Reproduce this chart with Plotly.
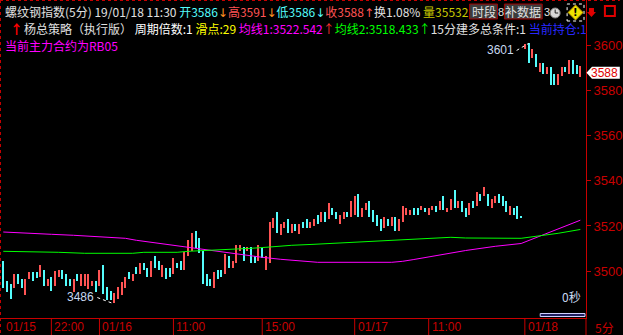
import plotly.graph_objects as go

# ---------------- data ----------------
bar_high = [
    3504.4, 3495.6, 3494.2, 3498.7, 3498.7, 3496.4, 3496.4, 3499.7, 3499.7, 3499.7,
    3502.7, 3500.4, 3496.4, 3497.5, 3500.1, 3500.4, 3500.4, 3498.7, 3496.4, 3496.4,
    3498.7, 3498.7, 3498.7, 3498.7, 3495.6, 3495.6, 3500.4, 3502.7, 3492.8, 3491.3,
    3490.1, 3492.8, 3495.3, 3497.5, 3499.7, 3498.7, 3501.9, 3503.4, 3503.7, 3501.5,
    3504.4, 3506.8, 3504.4, 3502.7, 3501.5, 3501.5, 3505.9, 3503.7, 3504.4, 3508.6,
    3513.8, 3517.0, 3517.8, 3514.8, 3508.9, 3498.7, 3496.4, 3499.7, 3500.4, 3500.4,
    3507.5, 3506.7, 3504.4, 3511.5, 3511.5, 3510.8, 3510.8, 3510.8, 3506.7, 3511.5,
    3510.3, 3506.7, 3521.9, 3523.4, 3526.0, 3520.7, 3521.9, 3523.1, 3520.7, 3520.7,
    3520.7, 3521.6, 3523.1, 3521.6, 3523.1, 3524.9, 3526.3, 3526.3, 3530.3, 3528.1,
    3526.3, 3524.9, 3526.3, 3526.3, 3531.1, 3533.4, 3534.2, 3528.1, 3530.3, 3531.1,
    3527.1, 3524.9, 3523.1, 3524.1, 3523.1, 3524.1, 3524.1, 3523.1, 3528.9, 3528.1,
    3527.1, 3528.1, 3528.1, 3528.9, 3528.1, 3528.1, 3528.9, 3528.9, 3531.1, 3533.3,
    3528.1, 3532.0, 3536.0, 3531.1, 3531.1, 3528.1, 3530.3, 3531.1, 3534.9, 3534.2,
    3537.3, 3534.2, 3532.0, 3533.3, 3534.2, 3533.3, 3531.1, 3528.9, 3528.1, 3528.9,
    3524.1, 3600.6, 3601.0, 3598.5, 3596.3, 3592.5, 3592.5, 3590.4, 3590.4, 3587.4,
    3587.4, 3590.4, 3590.4, 3593.7, 3593.7, 3591.4, 3591.0,
]
bar_low = [
    3492.6, 3490.8, 3487.4, 3492.6, 3494.2, 3492.6, 3489.3, 3496.4, 3495.6, 3496.8,
    3497.5, 3493.3, 3493.3, 3491.3, 3493.3, 3497.5, 3496.4, 3493.3, 3493.3, 3490.8,
    3495.6, 3493.3, 3493.3, 3491.9, 3493.3, 3490.8, 3493.3, 3489.8, 3487.2, 3487.2,
    3486.0, 3487.4, 3489.3, 3492.6, 3496.4, 3495.6, 3498.7, 3498.7, 3500.4, 3497.5,
    3497.5, 3501.5, 3500.4, 3497.5, 3496.4, 3497.5, 3498.5, 3501.5, 3500.4, 3500.4,
    3506.8, 3508.9, 3510.3, 3507.9, 3494.2, 3493.5, 3493.5, 3492.6, 3496.4, 3497.5,
    3498.7, 3501.5, 3501.5, 3503.7, 3508.9, 3504.4, 3508.9, 3503.7, 3503.7, 3504.4,
    3505.9, 3500.4, 3503.7, 3519.0, 3517.0, 3516.0, 3519.2, 3517.0, 3517.0, 3517.9,
    3516.3, 3519.2, 3519.2, 3519.2, 3520.0, 3520.9, 3521.9, 3521.9, 3523.1, 3524.9,
    3523.1, 3520.9, 3523.1, 3524.1, 3524.1, 3524.9, 3524.1, 3524.1, 3527.1, 3524.1,
    3521.9, 3520.0, 3517.9, 3519.2, 3520.0, 3520.0, 3517.9, 3517.9, 3521.9, 3524.9,
    3524.9, 3524.9, 3524.9, 3527.1, 3526.3, 3524.9, 3527.1, 3526.3, 3527.1, 3527.1,
    3526.3, 3527.1, 3528.1, 3528.1, 3526.3, 3524.1, 3524.9, 3528.1, 3528.9, 3531.1,
    3533.3, 3528.9, 3528.1, 3530.3, 3530.3, 3528.9, 3526.3, 3524.9, 3524.9, 3523.1,
    3523.7, 3598.5, 3592.5, 3594.4, 3590.7, 3588.5, 3587.4, 3587.4, 3582.6, 3582.6,
    3582.6, 3586.6, 3588.2, 3587.4, 3587.4, 3587.4, 3586.0,
]
# 1 = rising bar (red), 0 = falling bar (cyan)
bar_up = [
    0, 0, 0, 1, 0, 0, 1, 1, 0, 0,
    1, 0, 1, 0, 1, 1, 0, 0, 0, 1,
    0, 1, 1, 1, 1, 0, 1, 0, 0, 0,
    1, 1, 1, 1, 0, 1, 0, 1, 0, 0,
    1, 0, 0, 1, 0, 0, 1, 0, 0, 1,
    1, 1, 0, 0, 0, 0, 0, 1, 0, 0,
    1, 0, 1, 1, 1, 0, 1, 0, 0, 1,
    0, 1, 1, 1, 0, 1, 1, 0, 1, 0,
    1, 0, 0, 1, 1, 0, 1, 0, 1, 0,
    0, 1, 1, 0, 1, 1, 0, 1, 1, 0,
    0, 0, 0, 1, 0, 1, 0, 1, 1, 1,
    1, 0, 0, 1, 0, 1, 1, 0, 1, 0,
    1, 1, 0, 1, 0, 0, 1, 0, 1, 0,
    1, 0, 1, 1, 0, 0, 0, 1, 0, 0,
    0, 1, 0, 1, 0, 1, 0, 1, 0, 0,
    1, 1, 0, 1, 0, 0, 1,
]

ma1_idx = [0, 6, 13, 19, 24, 29, 33, 36, 38, 42, 46, 49, 54, 58, 62, 66, 70, 75,
           80, 85, 105, 108, 111, 119, 125, 133, 140, 156]
ma1_val = [3517.31, 3516.73, 3516.29, 3515.85, 3515.40, 3514.96, 3514.51, 3513.63,
           3513.18, 3512.29, 3511.32, 3510.52, 3509.63, 3508.74, 3507.86, 3506.97,
           3506.08, 3505.19, 3504.44, 3503.86, 3503.86, 3504.31, 3505.10, 3507.41,
           3509.10, 3510.96, 3512.21, 3522.542]

ma2_idx = [0, 10, 15, 22, 35, 38, 47, 50, 57, 63, 67, 71, 74, 78, 84, 89, 95, 101,
           107, 112, 117, 121, 125, 140, 144, 150, 156]
ma2_val = [3508.74, 3508.66, 3508.30, 3507.86, 3507.86, 3508.30, 3508.30, 3508.74,
           3509.19, 3509.63, 3510.08, 3510.52, 3510.96, 3511.41, 3511.85, 3512.29,
           3512.74, 3513.18, 3513.63, 3514.07, 3514.43, 3514.96, 3514.65, 3514.51,
           3515.40, 3516.73, 3518.433]

y_ticks = [3500, 3520, 3540, 3560, 3580, 3600]
x_sep_idx = [0, 13, 26, 46, 70, 95, 115, 141]
x_sep_txt = ["01/15", "22:00", "01/16", "11:00", "15:00", "01/17", "11:00", "01/18"]

last_open, last_high, last_low, last_close = 3586, 3591, 3586, 3588
turnover = "1.08%"
volume = 35532
ma1_last, ma2_last = 3522.542, 3518.433

# ---------------- geometry helpers ----------------
W, H = 623, 335
PL, PR, PT, PB = 0, 34, 0, 17
PW, PH = W - PL - PR, H - PT - PB
BAR_PX0, BAR_STEP = 3.3, 3.718      # pixel of first bar, pixel per bar
Y_PX_3500, Y_PX_PER = 271.0, 2.253  # pixel of 3500, pixel per unit

def fx(px):
    return (px - PL) / PW

def fy(py):
    return (PH - (py - PT)) / PH

x_range = [(0 - BAR_PX0) / BAR_STEP, (PW - BAR_PX0) / BAR_STEP]
y_range = [3500 - (PH - Y_PX_3500) / Y_PX_PER, 3500 + Y_PX_3500 / Y_PX_PER]

RED = "#ff5454"
CYAN = "#54fcfc"
AXR = "#c80000"
CJK = "Noto Sans CJK SC"

idx = list(range(len(bar_high)))
colors = [RED if u else CYAN for u in bar_up]

fig = go.Figure()
fig.add_trace(go.Bar(
    x=idx, y=[h - l for h, l in zip(bar_high, bar_low)], base=bar_low,
    width=0.3, marker=dict(color=colors, line=dict(width=0)),
    hoverinfo="skip"))
fig.add_trace(go.Scatter(x=ma1_idx, y=ma1_val, mode="lines",
                         line=dict(color="#ff00ff", width=1), hoverinfo="skip"))
fig.add_trace(go.Scatter(x=ma2_idx, y=ma2_val, mode="lines",
                         line=dict(color="#00ff00", width=1), hoverinfo="skip"))

shapes = []
annotations = []

# borders
shapes.append(dict(type="line", xref="paper", yref="paper", x0=fx(0.5), x1=fx(0.5),
                   y0=fy(0), y1=fy(H), line=dict(color=AXR, width=1, dash="dot")))
shapes.append(dict(type="line", xref="paper", yref="paper", x0=fx(0), x1=fx(W),
                   y0=fy(0.5), y1=fy(0.5), line=dict(color=AXR, width=1, dash="dot")))
shapes.append(dict(type="line", xref="paper", yref="paper", x0=1, x1=1,
                   y0=fy(H), y1=0, line=dict(color=AXR, width=1)))

# x separators & labels
for i, t in zip(x_sep_idx, x_sep_txt):
    if i > 0:
        shapes.append(dict(type="line", xref="x", yref="paper", x0=i, x1=i,
                           y0=fy(H), y1=0, line=dict(color=AXR, width=1)))
    annotations.append(dict(x=i, xref="x", y=fy(327), yref="paper", text=t,
                            showarrow=False, xanchor="left", yanchor="middle",
                            xshift=1, font=dict(color=AXR, size=12, family="Liberation Sans")))
annotations.append(dict(x=fx(596), xref="paper", y=fy(327), yref="paper", text="5分",
                        showarrow=False, xanchor="left", yanchor="middle",
                        font=dict(color=AXR, size=12, family=CJK)))

# last price tag
yc = fy(Y_PX_3500 - (last_close - 3500) * Y_PX_PER)
hgt = 6 / PH
shapes.append(dict(type="path", xref="paper", yref="paper",
                    path=f"M {fx(589.5)} {yc} L {fx(595)} {yc + hgt} L {fx(623)} {yc + hgt} "
                         f"L {fx(623)} {yc - hgt} L {fx(595)} {yc - hgt} Z",
                    fillcolor="white", line=dict(width=0)))
annotations.append(dict(x=fx(593), xref="paper", y=last_close, yref="y",
                        text=str(last_close), showarrow=False, xanchor="left",
                        yanchor="middle", borderpad=0,
                        font=dict(color="#e00000", size=12, family="Liberation Sans")))

# max / min labels
imax = max(idx, key=lambda i: bar_high[i])
imin = min(idx, key=lambda i: bar_low[i])
LBL = "#c8d8f0"
shapes.append(dict(type="line", xref="x", yref="y",
                   x0=imax - 12 / BAR_STEP, y0=bar_high[imax] - 7 / Y_PX_PER,
                   x1=imax, y1=bar_high[imax], line=dict(color="white", width=1, dash="dot")))
annotations.append(dict(x=imax, y=bar_high[imax], xref="x", yref="y",
                        text=f"{bar_high[imax]:.0f}", showarrow=False, xanchor="right",
                        yanchor="middle", xshift=-13, yshift=-7,
                        font=dict(color=LBL, size=12, family="Liberation Sans")))
shapes.append(dict(type="line", xref="x", yref="y",
                   x0=imin - 17 / BAR_STEP, y0=bar_low[imin] + 5 / Y_PX_PER,
                   x1=imin - 0.3, y1=bar_low[imin] - 1 / Y_PX_PER,
                   line=dict(color="white", width=1, dash="dot")))
annotations.append(dict(x=imin, y=bar_low[imin], xref="x", yref="y",
                        text=f"{bar_low[imin]:.0f}", showarrow=False, xanchor="right",
                        yanchor="middle", xshift=-18, yshift=6,
                        font=dict(color=LBL, size=12, family="Liberation Sans")))
annotations.append(dict(x=fx(563), xref="paper", y=fy(296), yref="paper", text="0秒",
                        showarrow=False, xanchor="left", yanchor="middle",
                        font=dict(color=LBL, size=12, family=CJK)))
shapes.append(dict(type="rect", xref="paper", yref="paper", x0=fx(543), x1=fx(588),
                   y0=fy(316.5), y1=fy(313.5), line=dict(color="#d0d0ff", width=1),
                   fillcolor="#202060"))

# header texts
def sp(c, t, fam=None):
    st = f"color:{c}"
    if fam:
        st += f";font-family:{fam}"
    return f"<span style='{st}'>{t}</span>"

ARW = "DejaVu Sans"
GRY = "#e0e0e0"
ORG = "#ff9020"
line1 = (sp(GRY, "螺纹钢指数(5分) 19/01/18 11:30 ") + sp(CYAN, f"开{last_open}") +
         sp(ORG, "↓", ARW) + sp(RED, f"高{last_high}") + sp(ORG, "↓", ARW) +
         sp(CYAN, f"低{last_low}") + sp(CYAN, "↓", ARW) + sp(RED, f"收{last_close}") +
         sp(RED, "↑", ARW) + sp(GRY, f"换{turnover} ") + sp("#c8c800", f"量{volume}"))
annotations.append(dict(x=fx(3), xref="paper", y=fy(12), yref="paper", text=line1,
                        showarrow=False, xanchor="left", yanchor="middle",
                        font=dict(size=12, family=CJK)))
annotations.append(dict(x=fx(8), xref="paper", y=fy(29), yref="paper",
                        text="<b>↑</b>", showarrow=False, xanchor="left", yanchor="middle",
                        font=dict(size=13, family=CJK, color="#ff0000")))
line2 = (sp(GRY, "杨总策略（执行版） ") + sp("#ffffff", "周期倍数:1 ") +
         sp("#ffff00", "滑点:29 ") + sp("#ff00ff", f"均线1:{ma1_last:.3f}") +
         sp("#ff3030", "↑") + sp("#00ff00", f"均线2:{ma2_last:.3f}↑") +
         sp(GRY, "15分建多总条件:1 ") + sp("#2828ff", "当前持仓:1"))
annotations.append(dict(x=fx(22), xref="paper", y=fy(29), yref="paper", text=line2,
                        showarrow=False, xanchor="left", yanchor="middle",
                        font=dict(size=12, family=CJK)))
annotations.append(dict(x=fx(3), xref="paper", y=fy(46), yref="paper",
                        text="当前主力合约为RB05", showarrow=False, xanchor="left",
                        yanchor="middle", font=dict(size=12, family=CJK, color="#ff00ff")))

# buttons and icons in top right
for x0, x1, t in [(472, 500, "时段"), (507, 545, "补数据")]:
    shapes.append(dict(type="rect", xref="paper", yref="paper", x0=fx(x0), x1=fx(x1),
                       y0=fy(19), y1=fy(4), fillcolor="#3c3c3c",
                       line=dict(color="#a00000", width=1)))
    annotations.append(dict(x=fx((x0 + x1) / 2), xref="paper", y=fy(12), yref="paper",
                            text=t, showarrow=False, xanchor="center", yanchor="middle",
                            borderpad=0,
                            font=dict(size=12, family=CJK, color="#e0e0e0")))
annotations.append(dict(x=fx(500), xref="paper", y=fy(12), yref="paper", text="8",
                        showarrow=False, xanchor="left", yanchor="middle", borderpad=0,
                        font=dict(size=11, family="Liberation Sans", color=GRY)))
annotations.append(dict(x=fx(546), xref="paper", y=fy(12), yref="paper", text="3",
                        showarrow=False, xanchor="left", yanchor="middle", borderpad=0,
                        font=dict(size=11, family="Liberation Sans", color=GRY)))
shapes.append(dict(type="circle", xref="paper", yref="paper", x0=fx(553), x1=fx(563),
                   y0=fy(18), y1=fy(8), fillcolor="#d8d8d8", line=dict(color="#808080", width=1)))
shapes.append(dict(type="path", xref="paper", yref="paper",
                   path=f"M {fx(558)} {fy(9.5)} L {fx(558)} {fy(13)} L {fx(561)} {fy(13)}",
                   line=dict(color="#202020", width=1)))
shapes.append(dict(type="rect", xref="paper", yref="paper", x0=fx(570), x1=fx(587),
                   y0=fy(21), y1=fy(4), line=dict(color="white", width=1, dash="dot")))
shapes.append(dict(type="path", xref="paper", yref="paper",
                   path=f"M {fx(578.5)} {fy(5)} L {fx(586)} {fy(12.5)} L {fx(578.5)} {fy(20)} "
                        f"L {fx(571)} {fy(12.5)} Z",
                   fillcolor="#f0e000", line=dict(color="#c0a000", width=1)))
annotations.append(dict(x=fx(578.5), xref="paper", y=fy(12.5), yref="paper", text="<b>!</b>",
                        showarrow=False, xanchor="center", yanchor="middle", borderpad=0,
                        font=dict(size=10, family="DejaVu Sans", color="black")))
shapes.append(dict(type="path", xref="paper", yref="paper",
                   path=f"M {fx(592)} {fy(8)} L {fx(597)} {fy(8)} L {fx(597)} {fy(12)} "
                        f"L {fx(599)} {fy(12)} L {fx(594.5)} {fy(17)} L {fx(590)} {fy(12)} "
                        f"L {fx(592)} {fy(12)} Z",
                   fillcolor="#e00000", line=dict(width=0)))
shapes.append(dict(type="rect", xref="paper", yref="paper", x0=fx(608), x1=fx(618),
                   y0=fy(16), y1=fy(6), line=dict(color="#e00000", width=2)))

fig.update_layout(
    width=W, height=H, margin=dict(l=PL, r=PR, t=PT, b=PB, pad=0),
    paper_bgcolor="black", plot_bgcolor="black", showlegend=False,
    bargap=0,
    xaxis=dict(range=x_range, showgrid=False, zeroline=False, showticklabels=False,
               showline=True, linecolor=AXR, linewidth=1, ticks=""),
    yaxis=dict(range=y_range, side="right", tickvals=y_ticks, ticks="outside",
               ticklen=4, tickcolor=AXR, showgrid=False, zeroline=False,
               showline=True, linecolor=AXR, linewidth=1,
               tickfont=dict(color=AXR, size=13, family="Liberation Sans")),
    shapes=shapes, annotations=annotations,
)
fig.write_html("out.html")
